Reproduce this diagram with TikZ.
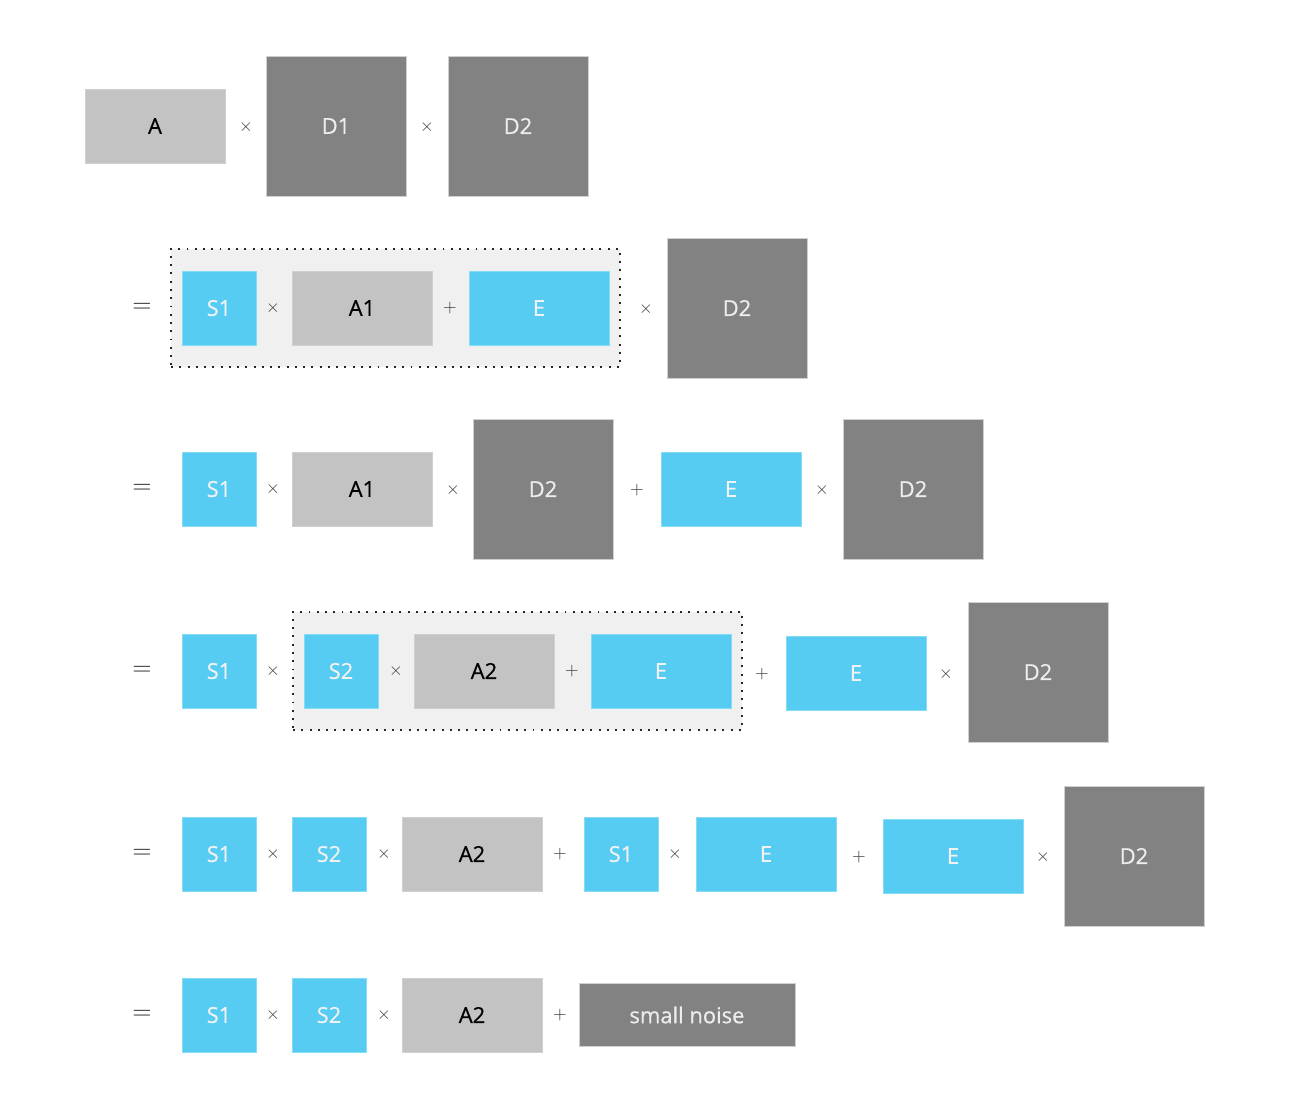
\documentclass[tikz,border=0pt]{standalone}
\usepackage{fontspec}
\setmainfont{Open Sans}
\newfontfamily\boxfont{Open Sans}[FakeBold=0.6]
\usetikzlibrary{positioning,fit,backgrounds}
\definecolor{sblue}{HTML}{56CCF2}
\definecolor{sblueline}{HTML}{86DBF6}
\definecolor{agray}{HTML}{C3C3C3}
\definecolor{dgray}{HTML}{828282}
\definecolor{boxline}{HTML}{D0D0D0}
\definecolor{framefill}{HTML}{F0F0F0}
\definecolor{optext}{HTML}{3A3A3A}
\tikzset{
	box/.style={rectangle,inner sep=0,font=\boxfont\fontsize{12.5}{14}\selectfont,line width=.5pt},
	sbox/.style={box,fill=sblue,draw=sblueline,text=white!95!black,minimum width=1.48cm,minimum height=1.48cm},
	ebox/.style={box,fill=sblue,draw=sblueline,text=white!95!black,minimum width=2.8cm,minimum height=1.48cm},
	abox/.style={box,fill=agray,draw=boxline,text=black,minimum width=2.8cm,minimum height=1.48cm},
	dbox/.style={box,fill=dgray,draw=boxline,text=white!93!black,minimum width=2.8cm,minimum height=2.8cm},
	nbox/.style={box,fill=dgray,draw=boxline,text=white!93!black,minimum width=4.32cm,minimum height=1.26cm},
	op/.style={inner sep=0,text=optext,font=\normalsize},
	eqop/.style={inner sep=0,text=black!85,font=\Large},
	frame/.style={rectangle,fill=framefill,draw=black!85,line width=1.1pt,dash pattern=on 1.1pt off 3.6pt,inner xsep=.21cm,inner ysep=.44cm}
}
\begin{document}
\begin{tikzpicture}[x=0.02cm,y=-0.02cm]
		\useasboundingbox (0,0) rectangle (1316,1108);
		%%% row 1
		\node[abox] (a) at (155,126) {A};
		\node[op] (m11) at (246,127) {$\times$};
		\node[dbox] (d1) at (336,126) {D1};
		\node[op] (m12) at (427,127) {$\times$};
		\node[dbox] (d2r1) at (518,126) {D2};
		
		%%% row 2
		\node[eqop] (eq2) at (142,308) {$=$};
		\node[sbox] (s1r2) at (219,308) {S1};
		\node[op] (m21) at (273,308) {$\times$};
		\node[abox] (a1r2) at (362,308) {A1};
		\node[op] (p21) at (450,308) {$+$};
		\node[ebox] (er2) at (539,308) {E};
		\node[op] (m22) at (646,309) {$\times$};
		\node[dbox] (d2r2) at (737,308) {D2};
		\begin{scope}[on background layer]
			\node[frame,fit=(s1r2)(er2)] (f2) {};
		\end{scope}
		
		%%% row 3
		\node[eqop] (eq3) at (142,489) {$=$};
		\node[sbox] (s1r3) at (219,489) {S1};
		\node[op] (m31) at (273,489) {$\times$};
		\node[abox] (a1r3) at (362,489) {A1};
		\node[op] (m32) at (453,490) {$\times$};
		\node[dbox] (d2r3) at (543,489) {D2};
		\node[op] (p31) at (637,490) {$+$};
		\node[ebox] (er3) at (731,489) {E};
		\node[op] (m33) at (822,490) {$\times$};
		\node[dbox] (d2r3b) at (913,489) {D2};
		
		%%% row 4
		\node[eqop] (eq4) at (142,671) {$=$};
		\node[sbox] (s1r4) at (219,671) {S1};
		\node[op] (m41) at (273,671) {$\times$};
		\node[sbox] (s2r4) at (341,671) {S2};
		\node[op] (m42) at (396,671) {$\times$};
		\node[abox] (a2r4) at (484,671) {A2};
		\node[op] (p41) at (572,671) {$+$};
		\node[ebox] (er4) at (661,671) {E};
		\node[op] (p42) at (762,674) {$+$};
		\node[ebox] (er4b) at (856,673) {E};
		\node[op] (m43) at (946,674) {$\times$};
		\node[dbox] (d2r4) at (1038,672) {D2};
		\begin{scope}[on background layer]
			\node[frame,fit=(s2r4)(er4)] (f4) {};
		\end{scope}
		
		%%% row 5
		\node[eqop] (eq5) at (142,854) {$=$};
		\node[sbox] (s1r5) at (219,854) {S1};
		\node[op] (m51) at (273,854) {$\times$};
		\node[sbox] (s2r5) at (329,854) {S2};
		\node[op] (m52) at (384,854) {$\times$};
		\node[abox] (a2r5) at (472,854) {A2};
		\node[op] (p51) at (560,854) {$+$};
		\node[sbox] (s1r5b) at (621,854) {S1};
		\node[op] (m53) at (675,854) {$\times$};
		\node[ebox] (er5) at (766,854) {E};
		\node[op] (p52) at (859,857) {$+$};
		\node[ebox] (er5b) at (953,856) {E};
		\node[op] (m54) at (1043,857) {$\times$};
		\node[dbox] (d2r5) at (1134,856) {D2};
		
		%%% row 6
		\node[eqop] (eq6) at (142,1015) {$=$};
		\node[sbox] (s1r6) at (219,1015) {S1};
		\node[op] (m61) at (273,1015) {$\times$};
		\node[sbox] (s2r6) at (329,1015) {S2};
		\node[op] (m62) at (384,1015) {$\times$};
		\node[abox] (a2r6) at (472,1015) {A2};
		\node[op] (p61) at (560,1015) {$+$};
		\node[nbox] (noise) at (687,1015) {small noise};
	\end{tikzpicture}
\end{document}
